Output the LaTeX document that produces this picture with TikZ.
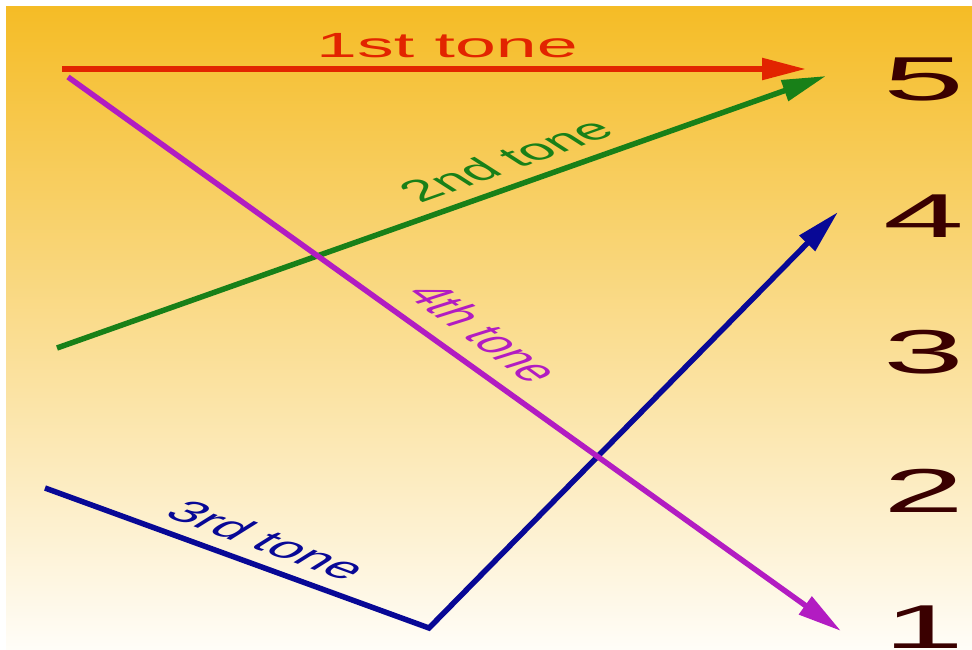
\documentclass[tikz,border=0pt]{standalone}
\usepackage{fontspec}
\setmainfont{Liberation Sans}
\usetikzlibrary{arrows.meta}
\definecolor{toneone}{RGB}{226,36,0}
\definecolor{tonetwo}{RGB}{24,128,24}
\definecolor{tonethree}{RGB}{8,8,150}
\definecolor{tonefour}{RGB}{178,28,194}
\definecolor{pitch}{RGB}{58,0,0}
\definecolor{bgtop}{RGB}{245,188,38}
\definecolor{bgmid}{RGB}{248,214,122}
\definecolor{bgbot}{RGB}{255,253,248}
\tikzset{
  toneline/.style={line width=5.5pt},
  tonelabel/.style={font=\fontsize{30}{30}\selectfont, xscale=2.1, inner sep=0pt},
  pitchlabel/.style={font=\fontsize{62}{62}\selectfont, text=pitch, xscale=2.35, inner sep=0pt, anchor=base}
}
\begin{document}
\begin{tikzpicture}[x=1pt, y=-1pt, >={Triangle[length=44pt,width=21pt]}]
	\useasboundingbox[fill=white] (0,0) rectangle (972,650);
	\shade[top color=bgtop, middle color=bgmid, bottom color=bgbot] (6,7) rectangle (972,650);
	% end points of the tones
	\coordinate (r0) at (62,69);
	\coordinate (r1) at (806,69);
	\coordinate (g0) at (57,348);
	\coordinate (g1) at (826,76);
	\coordinate (b0) at (45,488);
	\coordinate (b1) at (429,628);
	\coordinate (b2) at (838,212);
	\coordinate (p0) at (68,77);
	\coordinate (p1) at (841,631);
	\draw[toneline, toneone, ->] (r0)--(r1);
	\draw[toneline, tonetwo, ->] (g0)--(g1);
	\draw[toneline, tonethree, ->] (b0)--(b1)--(b2);
	\draw[toneline, tonefour, ->] (p0)--(p1);
	% labels
	\node[tonelabel, text=toneone, font=\fontsize{35}{35}\selectfont, anchor=base] (one) at (447,58) {1st tone};
	\node[tonelabel, text=tonetwo, rotate=36.6] (two) at (506,160) {2nd tone};
	\node[tonelabel, text=tonethree, rotate=-37.3] (three) at (268,540) {3rd tone};
	\node[tonelabel, text=tonefour, rotate=-56.4] (four) at (485,333) {4th tone};
	% pitch scale
	\foreach \n/\y in {5/101, 4/237, 3/373, 2/512, 1/648}
		\node[pitchlabel] (p\n) at (924,\y) {\n};
\end{tikzpicture}
\end{document}
